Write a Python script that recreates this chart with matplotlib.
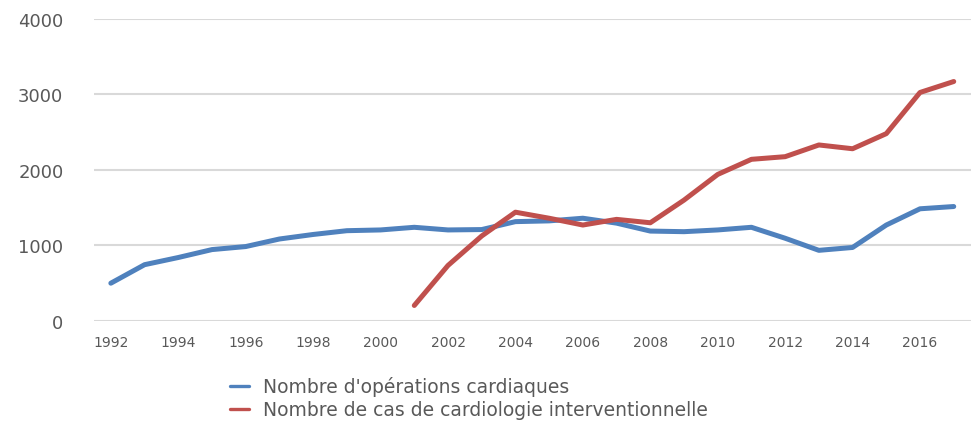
import matplotlib
matplotlib.use("Agg")
import matplotlib.pyplot as plt

years = list(range(1992, 2018))
operations = [500, 745, 840, 945, 985, 1085, 1145, 1195, 1205, 1240, 1205, 1210,
              1315, 1325, 1360, 1295, 1190, 1182, 1205, 1240, 1095, 935, 973, 1270, 1485, 1515]
cardio_years = list(range(2001, 2018))
cardio = [205, 735, 1125, 1440, 1360, 1270, 1345, 1300, 1600, 1940, 2140, 2175,
          2330, 2280, 2480, 3025, 3170]
xticks = list(range(1992, 2017, 2))
yticks = [0, 1000, 2000, 3000, 4000]

BLUE = "#4F81BD"
RED = "#C0504D"
TXT = "#595959"

fig = plt.figure(figsize=(9.74, 4.31), dpi=100)
ax = fig.add_axes([0.0965, 0.253, 0.9, 0.701])
ax.plot(years, operations, color=BLUE, lw=3.6, solid_capstyle="round", solid_joinstyle="round",
        label="Nombre d'opérations cardiaques")
ax.plot(cardio_years, cardio, color=RED, lw=3.6, solid_capstyle="round", solid_joinstyle="round",
        label="Nombre de cas de cardiologie interventionnelle")

ax.set_xlim(1991.5, 2017.5)
ax.set_ylim(0, 4000)
ax.set_xticks(xticks)
ax.set_yticks(yticks)
ax.tick_params(axis="x", length=0, labelsize=10, labelcolor=TXT, pad=10)
ax.tick_params(axis="y", length=0, labelsize=13, labelcolor=TXT, pad=22)
for s in ax.spines.values():
    s.set_visible(False)
ax.grid(axis="y", color="#D9D9D9", lw=1.5)
ax.set_axisbelow(True)

leg = fig.legend(loc="upper left", bbox_to_anchor=(0.228, 0.142), frameon=False, fontsize=13.5,
                 handlelength=1.05, handletextpad=0.75, labelspacing=0.22, borderaxespad=0,
                 labelcolor=TXT)
for h in leg.legend_handles:
    h.set_linewidth(2.4)
fig.savefig("out.png", dpi=100)
